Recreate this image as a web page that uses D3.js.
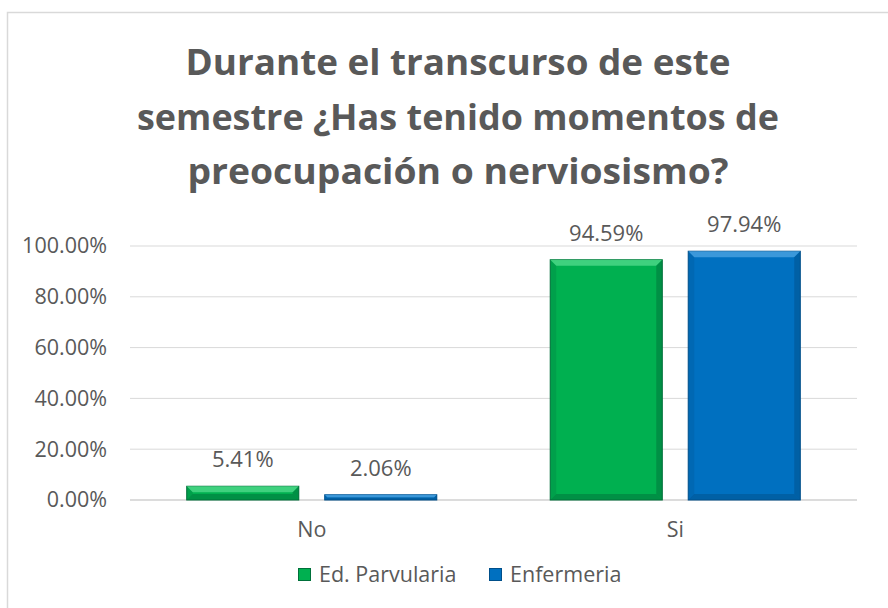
<!DOCTYPE html>
<html><head><meta charset="utf-8">
<script src="https://cdn.jsdelivr.net/npm/d3@7"></script>
<style>body{margin:0;background:#fff}svg{display:block}</style>
</head><body>
<svg id="c" width="888" height="608"></svg>
<script>
const categories = ["No", "Si"];
const seriesNames = ["Ed. Parvularia", "Enfermeria"];
const parvularia = [5.41, 94.59];
const enfermeria = [2.06, 97.94];
const yTicks = [0, 20, 40, 60, 80, 100];
const titleLines = ["Durante el transcurso de este", "semestre ¿Has tenido momentos de", "preocupación o nerviosismo?"];
const colors = ["#00B050", "#0070C0"];
const darks = ["#00703a", "#004f8a"];
const lights = ["#4fd98a", "#4aa3e0"];

const svg = d3.select("#c");
const font = "'Open Sans', 'Liberation Sans', sans-serif";
svg.append("rect").attr("x",7.5).attr("y",12.5).attr("width",900).attr("height",620)
  .attr("fill","#fff").attr("stroke","#d9d9d9").attr("stroke-width",1.5);

const titleWidths = [545, 642, 541];
const title = svg.append("g");
titleLines.forEach((t,i)=>{
  title.append("text").attr("x",458).attr("y",75+i*54.5).attr("text-anchor","middle")
    .attr("font-family",font).attr("font-weight","bold").attr("font-size",35)
    .attr("textLength",titleWidths[i]).attr("lengthAdjust","spacingAndGlyphs")
    .attr("fill","#595959").text(t);
});

const x0 = d3.scaleBand().domain(categories).range([130,857]).paddingInner(0).paddingOuter(0);
const x1 = d3.scaleBand().domain(seriesNames).range([0,x0.bandwidth()]).paddingInner(0.188).paddingOuter(0.411);
const y = d3.scaleLinear().domain([0,100]).range([500,246]);

const grid = svg.append("g");
yTicks.forEach(t=>{
  grid.append("line").attr("x1",130).attr("x2",857).attr("y1",y(t)).attr("y2",y(t))
    .attr("stroke", t===0 ? "#d0d0d0" : "#d9d9d9").attr("stroke-width",t===0?1.5:1);
});
const yAxis = d3.axisLeft(y).tickValues(yTicks).tickSize(0).tickPadding(23).tickFormat(d=>d.toFixed(2)+"%");
const ya = svg.append("g").attr("transform","translate(130,0)").call(yAxis);
ya.select(".domain").remove();
ya.selectAll("text").attr("font-family",font).attr("font-size",21.5).attr("fill","#595959");

const data = [parvularia, enfermeria];
categories.forEach((c,ci)=>{
  seriesNames.forEach((s,si)=>{
    const v = data[si][ci];
    const bx = x0(c)+x1(s), bw = x1.bandwidth(), by = y(v), bh = y(0)-y(v);
    const g = svg.append("g");
    g.append("rect").attr("x",bx).attr("y",by).attr("width",bw).attr("height",bh)
      .attr("fill",colors[si]).attr("stroke",darks[si]).attr("stroke-width",1);
    const b = Math.min(6, bh/2);
    g.append("polygon").attr("points",[[bx,by],[bx+bw,by],[bx+bw-b,by+b],[bx+b,by+b]].join(" "))
      .attr("fill",lights[si]).attr("opacity",0.8);
    g.append("polygon").attr("points",[[bx+bw,by],[bx+bw,by+bh],[bx+bw-b,by+bh-b],[bx+bw-b,by+b]].join(" "))
      .attr("fill",darks[si]).attr("opacity",0.5);
    g.append("polygon").attr("points",[[bx,by+bh],[bx+bw,by+bh],[bx+bw-b,by+bh-b],[bx+b,by+bh-b]].join(" "))
      .attr("fill",darks[si]).attr("opacity",0.5);
    g.append("polygon").attr("points",[[bx,by],[bx,by+bh],[bx+b,by+bh-b],[bx+b,by+b]].join(" "))
      .attr("fill",darks[si]).attr("opacity",0.25);
    svg.append("text").attr("x",bx+bw/2).attr("y",by-19).attr("text-anchor","middle")
      .attr("font-family",font).attr("font-size",22).attr("fill","#595959").text(v.toFixed(2)+"%");
  });
});

const xAxis = d3.axisBottom(x0).tickSize(0).tickPadding(22);
const xa = svg.append("g").attr("transform","translate(0,500)").call(xAxis);
xa.select(".domain").remove();
xa.selectAll("text").attr("font-family",font).attr("font-size",21.5).attr("fill","#595959");

const leg = svg.append("g");
const legX = [298, 489];
seriesNames.forEach((s,i)=>{
  leg.append("rect").attr("x",legX[i]+0.5).attr("y",568.5).attr("width",12).attr("height",12)
    .attr("fill",colors[i]).attr("stroke",darks[i]);
  leg.append("text").attr("x",legX[i]+21).attr("y",582).attr("font-family",font)
    .attr("font-size",21.5).attr("fill","#595959").text(s);
});
</script>
</body></html>
